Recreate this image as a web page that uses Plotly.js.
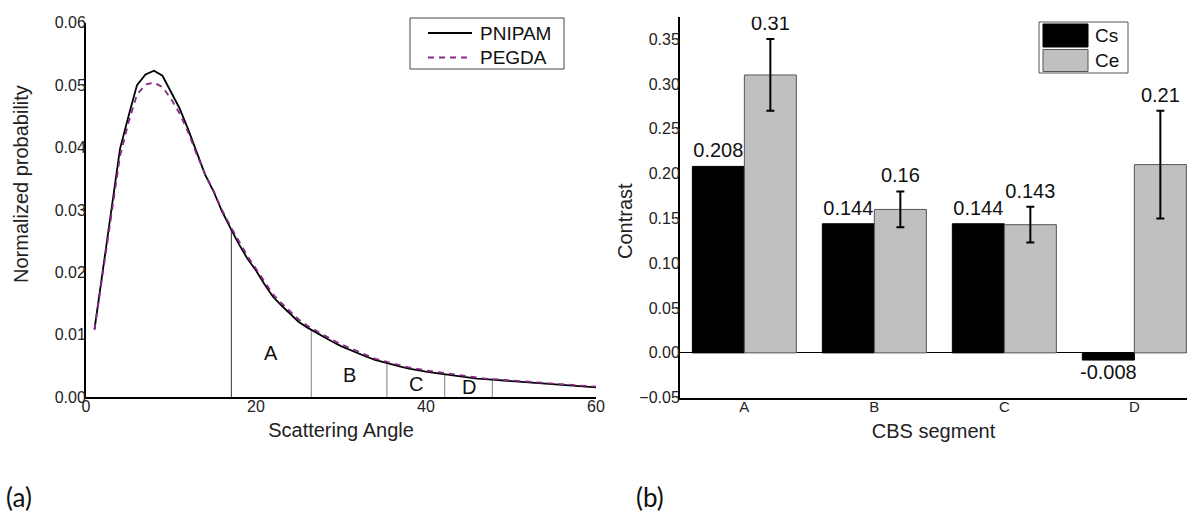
<!DOCTYPE html>
<html>
<head>
<meta charset="utf-8">
<script src="https://cdn.plot.ly/plotly-3.0.1.min.js"></script>
<style>
  html, body { margin: 0; padding: 0; background: #ffffff; overflow: hidden; }
  #chart { width: 1187px; height: 512px; }
</style>
</head>
<body>
<div id="chart"></div>
<script>
// ---- (a) scattering angle distributions ----
const angle = [1, 2, 3, 4, 5, 6, 7, 8, 9, 10,
  11, 12, 13, 14, 15, 16, 17, 18, 19, 20,
  21, 22, 23, 24, 25, 26, 27, 28, 29, 30,
  31, 32, 33, 34, 35, 36, 37, 38, 39, 40,
  41, 42, 43, 44, 45, 46, 47, 48, 49, 50,
  51, 52, 53, 54, 55, 56, 57, 58, 59, 60];

const pnipam = [0.0109, 0.0206, 0.0300, 0.0398, 0.0450, 0.0500, 0.0517, 0.0523, 0.0515, 0.0490,
  0.0463, 0.0430, 0.0392, 0.0357, 0.0330, 0.0298, 0.0271, 0.0245, 0.0222, 0.0203,
  0.0181, 0.0161, 0.0147, 0.0134, 0.0121, 0.0112, 0.0104, 0.0097, 0.0089, 0.0082,
  0.0076, 0.0070, 0.0065, 0.0060, 0.0056, 0.0052, 0.0049, 0.0046, 0.0043, 0.0041,
  0.0039, 0.0037, 0.0035, 0.0033, 0.0031, 0.0030, 0.0029, 0.0028, 0.0026, 0.0025,
  0.0024, 0.0023, 0.0022, 0.0021, 0.0020, 0.0019, 0.0018, 0.0018, 0.0017, 0.0016];

const pegda = [0.0108, 0.0198, 0.0290, 0.0386, 0.0440, 0.0485, 0.0501, 0.0504, 0.0497, 0.0478,
  0.0455, 0.0425, 0.0390, 0.0358, 0.0331, 0.0300, 0.0274, 0.0249, 0.0226, 0.0206,
  0.0185, 0.0165, 0.0151, 0.0138, 0.0125, 0.0115, 0.0107, 0.0099, 0.0092, 0.0085,
  0.0079, 0.0073, 0.0067, 0.0062, 0.0058, 0.0054, 0.0051, 0.0048, 0.0045, 0.0043,
  0.0041, 0.0039, 0.0037, 0.0035, 0.0033, 0.0032, 0.0030, 0.0029, 0.0028, 0.0027,
  0.0026, 0.0025, 0.0024, 0.0023, 0.0022, 0.0021, 0.0020, 0.0019, 0.0018, 0.0017];

const curveNames = ['PNIPAM', 'PEGDA'];

// CBS segment boundaries (degrees) and the letters drawn inside them
const segEdges = [17.1, 26.5, 35.4, 42.2, 47.8];
const segNames = ['A', 'B', 'C', 'D'];
const segLabelY = [0.0071, 0.0036, 0.0021, 0.0017];

// ---- (b) contrast per CBS segment ----
const cbsSegments = ['A', 'B', 'C', 'D'];
const seriesNames = ['Cs', 'Ce'];
const csValues = [0.208, 0.144, 0.144, -0.008];
const ceValues = [0.31, 0.16, 0.143, 0.21];
const ceErrors = [0.04, 0.02, 0.02, 0.06];

// ---------------------------------------------------------------
const FONT = 'Liberation Sans, Arial, Helvetica, sans-serif';
const W = 1187, H = 512;
const px = v => v / W;          // horizontal pixel -> paper
const py = v => 1 - v / H;      // vertical pixel -> paper

const CURVE_COLORS = ['#000000', '#862a86'];
const CURVE_DASH = ['solid', '6px,5px'];

// linear interpolation on the PNIPAM curve (for segment boundary heights)
function curveAt(x) {
  for (let i = 0; i < angle.length - 1; i++) {
    if (x >= angle[i] && x <= angle[i + 1]) {
      const t = (x - angle[i]) / (angle[i + 1] - angle[i]);
      return pnipam[i] + t * (pnipam[i + 1] - pnipam[i]);
    }
  }
  return pnipam[pnipam.length - 1];
}

const catIdx = cbsSegments.map((_, i) => i);
const BAR_W = 0.4;

const traces = [
  {
    type: 'scatter', mode: 'lines', name: curveNames[0], showlegend: false,
    x: angle, y: pnipam, xaxis: 'x', yaxis: 'y',
    line: { color: CURVE_COLORS[0], width: 1.8 },
    hoverinfo: 'skip'
  },
  {
    type: 'scatter', mode: 'lines', name: curveNames[1], showlegend: false,
    x: angle, y: pegda, xaxis: 'x', yaxis: 'y',
    line: { color: CURVE_COLORS[1], width: 1.8, dash: CURVE_DASH[1] },
    hoverinfo: 'skip'
  },
  {
    type: 'bar', name: seriesNames[0], showlegend: false,
    x: catIdx, y: csValues, xaxis: 'x2', yaxis: 'y2',
    width: BAR_W, offset: -BAR_W,
    marker: { color: '#000000', line: { color: '#000000', width: 1 } },
    hoverinfo: 'skip'
  },
  {
    type: 'bar', name: seriesNames[1], showlegend: false,
    x: catIdx, y: ceValues, xaxis: 'x2', yaxis: 'y2',
    width: BAR_W, offset: 0,
    marker: { color: '#c0c0c0', line: { color: '#555555', width: 1 } },
    error_y: { type: 'data', array: ceErrors, visible: true, color: '#000000', thickness: 2, width: 4 },
    hoverinfo: 'skip'
  },
  {
    // value labels for Cs bars
    type: 'scatter', mode: 'markers+text', showlegend: false,
    x: catIdx.map(i => i - BAR_W / 2), y: csValues,
    text: csValues.map(v => String(v)),
    textposition: csValues.map(v => v < 0 ? 'bottom center' : 'top center'),
    textfont: { family: FONT, size: 20, color: '#111111' },
    marker: { size: 5, color: 'rgba(0,0,0,0)' },
    xaxis: 'x2', yaxis: 'y2', cliponaxis: true, hoverinfo: 'skip'
  },
  {
    // value labels for Ce bars, above their error bars
    type: 'scatter', mode: 'markers+text', showlegend: false,
    x: catIdx.map(i => i + BAR_W / 2), y: ceValues.map((v, i) => v + ceErrors[i]),
    text: ceValues.map(v => String(v)),
    textposition: 'top center',
    textfont: { family: FONT, size: 20, color: '#111111' },
    marker: { size: 5, color: 'rgba(0,0,0,0)' },
    xaxis: 'x2', yaxis: 'y2', cliponaxis: true, hoverinfo: 'skip'
  }
];

const shapes = [];
segEdges.forEach((e, i) => {
  shapes.push({
    type: 'line', xref: 'x', yref: 'y', x0: e, x1: e, y0: 0, y1: curveAt(e),
    line: { color: i === 0 ? '#333333' : '#808080', width: 1 }, layer: 'below'
  });
});

const annotations = [];

// legend of panel (a): framed box with line samples
shapes.push({
  type: 'rect', xref: 'paper', yref: 'paper',
  x0: px(410), x1: px(564), y0: py(69), y1: py(18),
  line: { color: '#444444', width: 1 }, fillcolor: '#ffffff'
});
curveNames.forEach((n, i) => {
  const yy = i === 0 ? 33 : 57.5;
  shapes.push({
    type: 'line', xref: 'paper', yref: 'paper',
    x0: px(428), x1: px(472), y0: py(yy), y1: py(yy),
    line: { color: CURVE_COLORS[i], width: 1.8, dash: CURVE_DASH[i] }
  });
  annotations.push({
    xref: 'paper', yref: 'paper', x: px(478), y: py(yy), text: n,
    showarrow: false, xanchor: 'left', yanchor: 'middle',
    font: { family: FONT, size: 19, color: '#111111' }
  });
});

// legend of panel (b): framed box with filled swatches
shapes.push({
  type: 'rect', xref: 'paper', yref: 'paper',
  x0: px(1039), x1: px(1128), y0: py(73), y1: py(22),
  line: { color: '#555555', width: 1 }, fillcolor: '#ffffff'
});
shapes.push({
  type: 'rect', xref: 'paper', yref: 'paper',
  x0: px(1043), x1: px(1088), y0: py(47), y1: py(24),
  line: { color: '#000000', width: 1 }, fillcolor: '#000000'
});
shapes.push({
  type: 'rect', xref: 'paper', yref: 'paper',
  x0: px(1043), x1: px(1088), y0: py(71.5), y1: py(49.5),
  line: { color: '#555555', width: 1 }, fillcolor: '#c0c0c0'
});
seriesNames.forEach((s, i) => {
  annotations.push({
    xref: 'paper', yref: 'paper', x: px(1093), y: py(i === 0 ? 35.5 : 60.5), text: s,
    showarrow: false, xanchor: 'left', yanchor: 'middle',
    font: { family: FONT, size: 19, color: '#111111' }
  });
});

// letters inside the segments
segNames.forEach((s, i) => {
  annotations.push({
    xref: 'x', yref: 'y', x: (segEdges[i] + segEdges[i + 1]) / 2, y: segLabelY[i],
    text: s, showarrow: false, xanchor: 'center', yanchor: 'middle',
    font: { family: FONT, size: 20, color: '#111111' }
  });
});
// y axis titles
annotations.push({
  xref: 'paper', yref: 'paper', x: px(21), y: py(184), text: 'Normalized probability',
  textangle: -90, showarrow: false, xanchor: 'center', yanchor: 'middle',
  font: { family: FONT, size: 20, color: '#222222' }
});
annotations.push({
  xref: 'paper', yref: 'paper', x: px(625), y: py(221), text: 'Contrast',
  textangle: -90, showarrow: false, xanchor: 'center', yanchor: 'middle',
  font: { family: FONT, size: 20, color: '#222222' }
});
// panel letters
annotations.push({
  xref: 'paper', yref: 'paper', x: px(4), y: py(497), text: '(a)', showarrow: false,
  xanchor: 'left', yanchor: 'middle', font: { family: 'Lato, Open Sans, sans-serif', size: 26, color: '#111111' }
});
annotations.push({
  xref: 'paper', yref: 'paper', x: px(634), y: py(497), text: '(b)', showarrow: false,
  xanchor: 'left', yanchor: 'middle', font: { family: 'Lato, Open Sans, sans-serif', size: 26, color: '#111111' }
});

const tickFont = { family: FONT, size: 16, color: '#222222' };
const axisBase = {
  showline: true, linecolor: '#000000', linewidth: 2, ticks: '',
  showgrid: false, zeroline: false, fixedrange: true, tickfont: tickFont
};

const layout = {
  width: W, height: H, autosize: false,
  margin: { l: 0, r: 0, t: 0, b: 0, pad: 0 },
  paper_bgcolor: '#ffffff', plot_bgcolor: 'rgba(0,0,0,0)',
  font: { family: FONT, color: '#222222' },
  barmode: 'overlay',
  showlegend: false,
  xaxis: Object.assign({}, axisBase, {
    domain: [px(86), px(596)], range: [0, 60], dtick: 20, tick0: 0, anchor: 'y',
    ticklabelstandoff: -7,
    title: { text: 'Scattering Angle', font: { family: FONT, size: 20, color: '#222222' }, standoff: 9 }
  }),
  yaxis: Object.assign({}, axisBase, {
    domain: [py(397.3), py(22.7)], range: [0, 0.06], dtick: 0.01, tick0: 0,
    tickformat: '.2f', anchor: 'x', ticklabelstandoff: -5
  }),
  xaxis2: Object.assign({}, axisBase, {
    domain: [px(680), 1], range: [-0.495, 3.405], anchor: 'y2',
    tickmode: 'array', tickvals: catIdx, ticktext: cbsSegments,
    tickfont: { family: FONT, size: 15, color: '#222222' },
    ticklabelstandoff: -6,
    title: { text: 'CBS segment', font: { family: FONT, size: 20, color: '#222222' }, standoff: 10 }
  }),
  yaxis2: Object.assign({}, axisBase, {
    domain: [py(397.7), py(16.7)], range: [-0.05, 0.375], dtick: 0.05, tick0: 0,
    tickformat: '.2f', anchor: 'x2', ticklabelstandoff: -5,
    zeroline: true, zerolinecolor: '#000000', zerolinewidth: 1
  }),
  shapes: shapes,
  annotations: annotations
};

Plotly.newPlot('chart', traces, layout, { displayModeBar: false, staticPlot: true });
</script>
</body>
</html>
